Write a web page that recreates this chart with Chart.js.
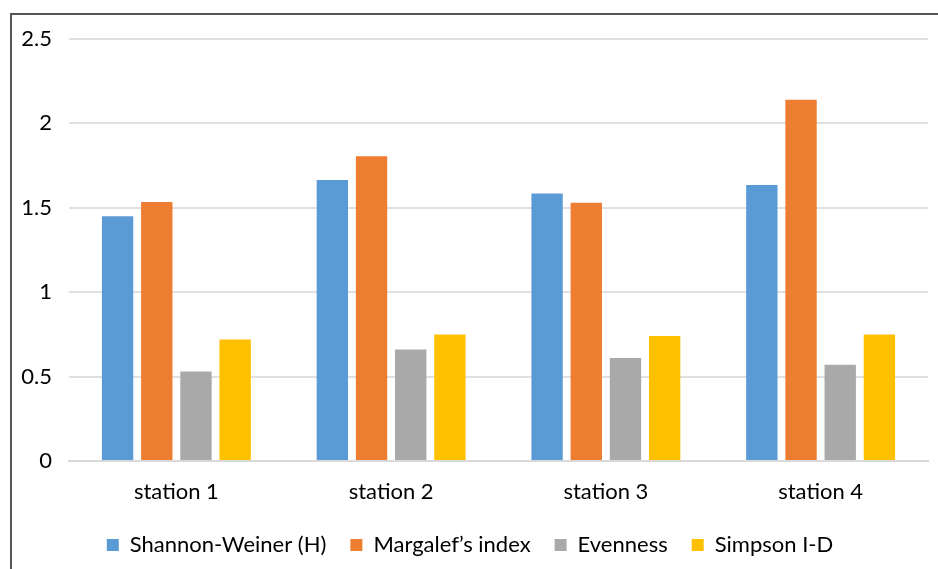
<!DOCTYPE html>
<html>
<head>
<meta charset="utf-8">
<script src="https://cdn.jsdelivr.net/npm/chart.js@4"></script>
<style>
  body { margin: 0; background: #fff; overflow: hidden; }
  #wrap { position: relative; width: 938px; height: 569px; }
  #frame { position: absolute; left: 10px; top: 13px; width: 1000px; height: 700px; border: 2px solid #555; }
  canvas { position: absolute; left: 0; top: 0; }
</style>
</head>
<body>
<div id="wrap">
  <div id="frame"></div>
  <canvas id="chart" width="938" height="569"></canvas>
</div>
<script>
var stations = ['station 1', 'station 2', 'station 3', 'station 4'];
var shannon = [1.45, 1.665, 1.585, 1.635];
var margalef = [1.535, 1.805, 1.53, 2.14];
var evenness = [0.53, 0.66, 0.61, 0.57];
var simpson = [0.72, 0.75, 0.74, 0.75];
var yTicks = [0, 0.5, 1, 1.5, 2, 2.5];

Chart.defaults.font.family = 'Lato, "Open Sans", sans-serif';
Chart.defaults.font.size = 22;
Chart.defaults.color = '#000';

var ctx = document.getElementById('chart').getContext('2d');
window.myChart = new Chart(ctx, {
    type: 'bar',
    data: {
        labels: stations,
        datasets: [
            { label: 'Shannon-Weiner (H)', data: shannon, backgroundColor: '#5B9BD5' },
            { label: 'Margalef\u2019s index', data: margalef, backgroundColor: '#ED7D31' },
            { label: 'Evenness', data: evenness, backgroundColor: '#A9A9A9' },
            { label: 'Simpson I-D', data: simpson, backgroundColor: '#FFC000' }
        ]
    },
    options: {
        responsive: false,
        animation: false,
        categoryPercentage: 0.73,
        barPercentage: 0.8,
        layout: { padding: { left: 12, right: 10, top: 39, bottom: 3 } },
        plugins: {
            tooltip: { enabled: false },
            legend: {
                position: 'bottom',
                labels: { boxWidth: 12, boxHeight: 12, padding: 24, color: '#000' }
            }
        },
        scales: {
            x: {
                grid: { display: false },
                border: { color: '#d9d9d9', width: 2 },
                ticks: { padding: 10 },
                afterFit: function (s) { s.height = 49; }
            },
            y: {
                min: 0,
                max: 2.5,
                afterBuildTicks: function (s) { s.ticks = yTicks.map(function (v) { return { value: v }; }); },
                grid: { color: '#e0e0e0', lineWidth: 2, drawTicks: false },
                border: { display: false },
                ticks: { padding: 17, callback: function (v) { return String(v); } },
                afterFit: function (s) { s.width = 57; }
            }
        }
    }
});
</script>
</body>
</html>
